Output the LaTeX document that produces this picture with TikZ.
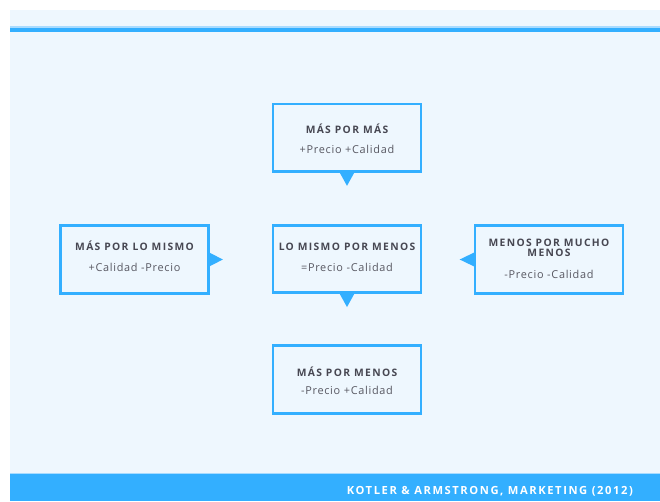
\documentclass[tikz,border=0pt]{standalone}
\usepackage{fontspec}
\setmainfont{Open Sans}
\newfontfamily\ttlfont[LetterSpace=13]{Open Sans}
\newfontfamily\footfont[LetterSpace=14]{Open Sans}
\newfontfamily\subfont[LetterSpace=6.5]{Open Sans}
\usetikzlibrary{calc}
\definecolor{bgc}{HTML}{EEF7FE}
\definecolor{accent}{HTML}{33AFFF}
\definecolor{paleline}{HTML}{A8DBFF}
\definecolor{ttlc}{HTML}{474752}
\definecolor{subc}{HTML}{585862}
\tikzset{
  box/.style={draw=accent, line width=2.6pt, fill=bgc, minimum width=148pt, minimum height=67.5pt, inner sep=0pt},
  ttl/.style={font=\ttlfont\bfseries\fontsize{10.3}{12}\selectfont, text=ttlc, inner sep=0pt, text height=7.4pt, text depth=0pt, align=center},
  foot/.style={font=\footfont\bfseries\fontsize{11.2}{12}\selectfont, text=white, inner sep=0pt, text height=8pt, text depth=0pt},
  sub/.style={font=\subfont\fontsize{10.9}{12}\selectfont, text=subc, inner sep=0pt, text height=8pt, text depth=0pt},
  pointer/.style={fill=accent},
}
\begin{document}
\begin{tikzpicture}[x=1pt,y=-1pt]
\useasboundingbox (0,0) rectangle (660,501);
\fill[white] (0,0) rectangle (660,501);
\fill[bgc] (10,10) rectangle (660,501);
% top rule
\fill[paleline] (10,26) rectangle (660,27.5);
\fill[accent] (10,27.5) rectangle (660,32);
% bottom bar
\fill[paleline] (10,472.8) rectangle (660,474.2);
\fill[accent] (10,474.2) rectangle (660,501);

% boxes
\node[box] (top) at (347,137.75) {};
\node[box] (left) at (134.5,259.5) {};
\node[box] (mid) at (347,259) {};
\node[box] (right) at (549,259.5) {};
\node[box] (bot) at (347,379.5) {};

% pointers
\fill[pointer] ($(top.south)+(-8,-1.5)$) -- ($(top.south)+(8,-1.5)$) -- ($(top.south)+(0,13)$) -- cycle;
\fill[pointer] ($(mid.south)+(-8,-1.5)$) -- ($(mid.south)+(8,-1.5)$) -- ($(mid.south)+(0,13)$) -- cycle;
\fill[pointer] ($(left.east)+(-1.5,-7.5)$) -- ($(left.east)+(-1.5,7.5)$) -- ($(left.east)+(13,0)$) -- cycle;
\fill[pointer] ($(right.west)+(1.5,-7.5)$) -- ($(right.west)+(1.5,7.5)$) -- ($(right.west)+(-14,0)$) -- cycle;

% texts
\node[ttl] (topT) at (347,130) {MÁS POR MÁS};
\node[sub] (topS) at (347,149) {+Precio +Calidad};
\node[ttl] (leftT) at (134.5,247) {MÁS POR LO MISMO};
\node[sub] (leftS) at (134.5,267) {+Calidad -Precio};
\node[ttl] (midT) at (347,247) {LO MISMO POR MENOS};
\node[sub] (midS) at (347,267) {=Precio -Calidad};
\node[ttl] (rightT1) at (549,243) {MENOS POR MUCHO};
\node[ttl] (rightT2) at (549,253) {MENOS};
\node[sub] (rightS) at (549,274) {-Precio -Calidad};
\node[ttl] (botT) at (347,373) {MÁS POR MENOS};
\node[sub] (botS) at (347,390) {-Precio +Calidad};

% footer
\node[foot, anchor=east] (footer) at (633,490) {KOTLER \& ARMSTRONG, MARKETING (2012)};
\end{tikzpicture}
\end{document}
